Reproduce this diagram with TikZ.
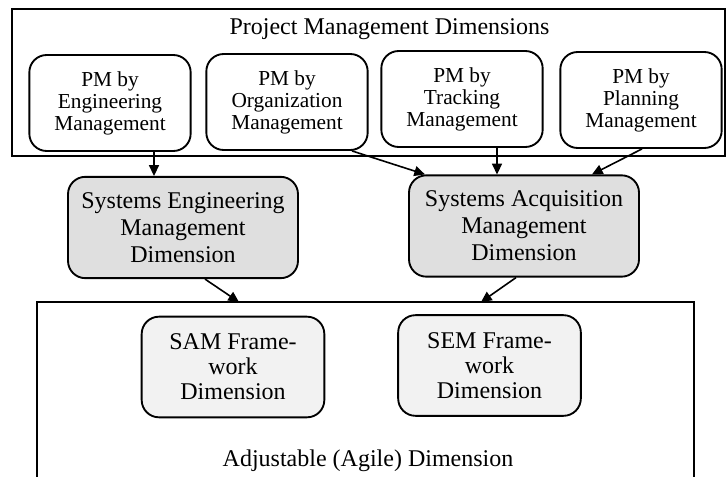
\documentclass[tikz,border=0pt]{standalone}
\usepackage{fontspec}
\setmainfont{Liberation Serif}
\usepackage{tikz}
\usetikzlibrary{arrows.meta,calc}

\tikzset{
  frame/.style={draw,line width=1.4pt,inner sep=0pt},
  pmbox/.style={draw,line width=1.4pt,rounded corners=13pt,align=center,inner sep=0pt,
    minimum width=121pt,minimum height=72pt,font=\fontsize{16}{16.5}\selectfont},
  dimbox/.style={pmbox,fill=gray!25,minimum width=172.5pt,minimum height=76pt,
    font=\fontsize{18}{20.25}\selectfont},
  fwbox/.style={pmbox,fill=gray!10,minimum width=137pt,minimum height=75.5pt,
    font=\fontsize{18}{18.75}\selectfont},
  arr/.style={-{Triangle[length=8pt,width=7.5pt]},line width=1.2pt}
}

\begin{document}
\begin{tikzpicture}[x=0.75pt,y=-0.75pt]
  \useasboundingbox (0,0) rectangle (728,477);
  % project management frame
  \node[frame,minimum width=534.75pt,minimum height=110.25pt] (pmdim) at (368.5,82.5) {};
  \node[font=\fontsize{18}{20}\selectfont] (pmtitle) at (389.5,29) {Project Management Dimensions};
  \foreach \n/\x/\y/\w in {pmeng/110/103/Engineering,pmorg/287/102/Organization,pmtrk/462/99/Tracking,pmpln/641/100/Planning}
    \node[pmbox] (\n) at (\x,\y) {PM by\\\w\\Management};
  % middle dimensions
  \node[dimbox] (semdim) at (183,227.5) {Systems Engineering\\Management\\Dimension};
  \node[dimbox] (samdim) at (524,226) {Systems Acquisition\\Management\\Dimension};
  % agile frame, open at the bottom
  \node[frame,draw=none,minimum width=491.25pt,minimum height=130.5pt] (agile) at (365.5,390) {};
  \draw[line width=1.4pt] (agile.south west) |- (agile.north) -| (agile.south east);
  \node[font=\fontsize{18}{20}\selectfont] (agiletitle) at (368,461) {Adjustable (Agile) Dimension};
  \node[fwbox] (samfw) at (233,367) {SAM Frame-\\work\\Dimension};
  \node[fwbox] (semfw) at (489.5,365.5) {SEM Frame-\\work\\Dimension};
  % arrows
  \draw[arr] ($(pmeng.south)+(44,0)$) -- ($(semdim.north)+(-29,0)$);
  \draw[arr] ($(pmorg.south)+(65,0)$) -- ($(samdim.north)+(-99,0)$);
  \draw[arr] ($(pmtrk.south)+(35,0)$) -- ($(samdim.north)+(-27,0)$);
  \draw[arr] ($(pmpln.south)+(1,0)$) -- ($(samdim.north)+(68,0)$);
  \draw[arr] ($(semdim.south)+(22,0)$) -- ($(agile.north)+(-126.5,0)$);
  \draw[arr] ($(samdim.south)+(-8,0)$) -- ($(agile.north)+(115.5,0)$);
\end{tikzpicture}
\end{document}
